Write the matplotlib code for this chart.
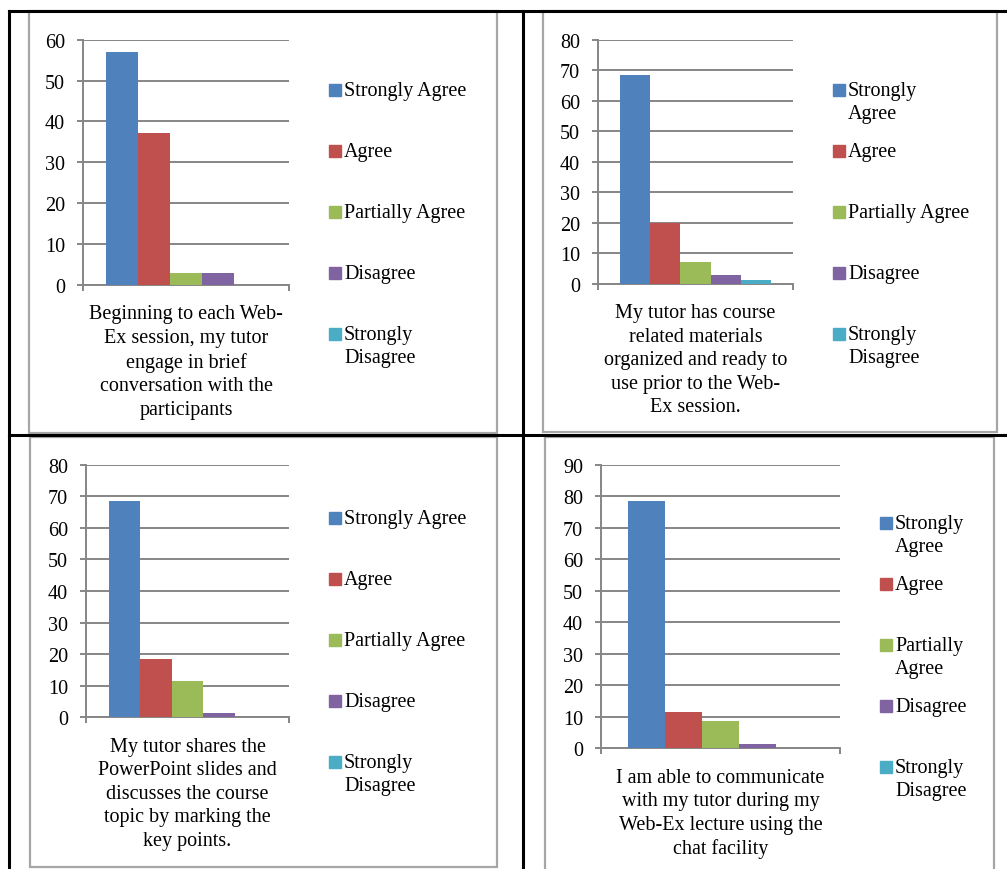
import numpy as np
import matplotlib.pyplot as plt
from matplotlib.patches import Rectangle
from matplotlib.lines import Line2D

plt.rcParams['font.family'] = ['Liberation Serif', 'DejaVu Serif']
plt.rcParams['font.size'] = 14.5

# data (percent of respondents)
responses = ["Strongly Agree", "Agree", "Partially Agree", "Disagree", "Strongly Disagree"]
colors = ["#4F81BD", "#C0504D", "#9BBB59", "#8064A2", "#4BACC6"]

q1 = "Beginning to each Web-\nEx session, my tutor\nengage in brief\nconversation with the\nparticipants"
q2 = "My tutor has course\nrelated materials\norganized and ready to\nuse prior to the Web-\nEx session."
q3 = "My tutor shares the\nPowerPoint slides and\ndiscusses the course\ntopic by marking the\nkey points."
q4 = "I am able to communicate\nwith my tutor during my\nWeb-Ex lecture using the\nchat facility"

vals1 = [57.1, 37.1, 2.9, 2.9, 0]
vals2 = [68.6, 20.0, 7.1, 2.9, 1.4]
vals3 = [68.6, 18.6, 11.4, 1.4, 0]
vals4 = [78.6, 11.4, 8.6, 1.4, 0]

leg1 = ["Strongly Agree", "Agree", "Partially Agree", "Disagree", "Strongly\nDisagree"]
leg2 = ["Strongly\nAgree", "Agree", "Partially Agree", "Disagree", "Strongly\nDisagree"]
leg3 = leg1
leg4 = ["Strongly\nAgree", "Agree", "Partially\nAgree", "Disagree", "Strongly\nDisagree"]

W, H = 1007, 870
def fx(px):
    return px / W
def fy(py):
    return 1 - py / H

fig = plt.figure(figsize=(W / 100, H / 100), dpi=100)

# table lines
black = dict(color="black", lw=2.2, transform=fig.transFigure)
fig.add_artist(Line2D([fx(9), fx(1010)], [fy(12), fy(12)], **black))
fig.add_artist(Line2D([fx(9), fx(9)], [fy(12), fy(875)], **black))
fig.add_artist(Line2D([fx(523), fx(523)], [fy(12), fy(875)], **black))
fig.add_artist(Line2D([fx(9), fx(1010)], [fy(436), fy(436)], **black))

grid_c = "#868686"

charts = [
    # values, question, legend labels, ymax, axes box (l, t, r, b), chart frame, legend (x, y0)
    (vals1, q1, leg1, 60, (83, 40.7, 289, 286), (29, 12, 497, 434), (329, 91)),
    (vals2, q2, leg2, 80, (598, 40.7, 793, 285), (543, 12, 997, 433), (833, 91)),
    (vals3, q3, leg3, 80, (86, 465.7, 289, 718.3), (30, 438, 497, 868), (329, 519)),
    (vals4, q4, leg4, 90, (601, 465.7, 840, 749.3), (545, 438, 994, 880), (880, 524)),
]

bw = 0.155
for vals, q, legs, ymax, box, frame, legpos in charts:
    fl, ft, fr, fb = frame
    fig.add_artist(Rectangle((fx(fl), fy(fb)), fx(fr) - fx(fl), fy(ft) - fy(fb),
                             transform=fig.transFigure, fill=False,
                             edgecolor="#a6a6a6", lw=1.6))
    l, t, r, b = box
    ax = fig.add_axes([fx(l), fy(b), fx(r) - fx(l), fy(t) - fy(b)])
    for i, v in enumerate(vals):
        ax.bar((i - 2) * bw, v, width=bw, color=colors[i], zorder=3)
    ax.set_xlim(-0.5, 0.5)
    ax.set_ylim(0, ymax)
    ax.set_yticks(np.arange(0, ymax + 1, 10))
    ax.yaxis.grid(True, color=grid_c, lw=1.4)
    ax.set_axisbelow(True)
    for s in ["top", "right"]:
        ax.spines[s].set_visible(False)
    for s in ["left", "bottom"]:
        ax.spines[s].set_color(grid_c)
        ax.spines[s].set_linewidth(1.4)
    ax.tick_params(axis="y", direction="out", length=4.5, width=1.4, color=grid_c, pad=8.5)
    ax.set_xticks([-0.5, 0.5])
    ax.set_xticklabels([])
    ax.tick_params(axis="x", direction="out", length=4.5, width=1.4, color=grid_c)
    ax.patch.set_alpha(0)
    ax.annotate(q, xy=(0.5, 0), xycoords="axes fraction", xytext=(0, -14),
                textcoords="offset points", ha="center", va="top", linespacing=1.32)

    # legend
    lx, ly = legpos
    for i, lab in enumerate(legs):
        yc = ly + i * 61
        fig.add_artist(Rectangle((fx(lx), fy(yc + 5.5)), 11.5 / W, 11.5 / H,
                                 transform=fig.transFigure, color=colors[i]))
        fig.text(fx(lx + 15), fy(yc - 9), lab, ha="left", va="top", linespacing=1.32)

plt.savefig("out.png", dpi=100)
